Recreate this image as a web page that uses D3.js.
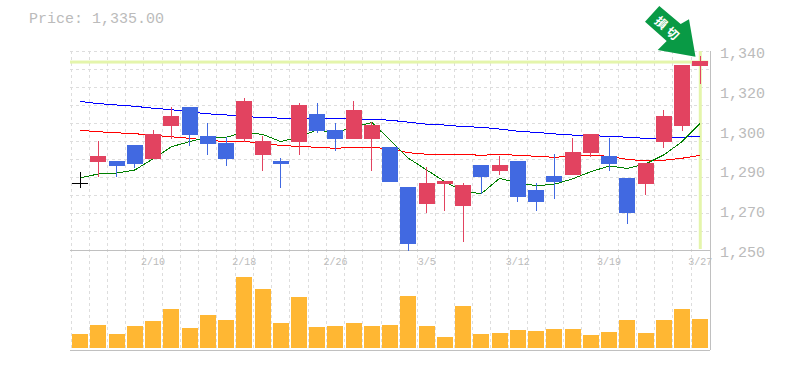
<!DOCTYPE html>
<html>
<head>
<meta charset="utf-8">
<script src="https://cdn.jsdelivr.net/npm/d3@7"></script>
<style>
body { margin: 0; background: #fff; }
svg { display: block; }
text { font-family: "Liberation Mono", monospace; fill: #bbb; }
text.badge { font-family: "Noto Sans CJK JP", sans-serif; font-weight: 700; fill: #fff; }
</style>
</head>
<body>
<svg id="chart" width="785" height="370"></svg>
<script>
const lastPrice = 1335;
const opens = [1280.2,1289.8,1290.2,1297.5,1291.2,1306.1,1314.7,1301.6,1298.4,1300.2,1293,1290.2,1298.8,1311.5,1304.3,1300.2,1300.2,1296.6,1278.5,1270.8,1279.8,1269.9,1288.4,1285.7,1290.2,1277.1,1283.5,1283.9,1293.9,1292.5,1282.6,1279.8,1298.8,1306.1,1333.2];
const closes = [1280.2,1292.5,1288,1288.9,1302.5,1310.6,1302,1297.9,1291.2,1317.4,1299.3,1288.9,1315.6,1303.8,1300.2,1313.3,1306.5,1280.7,1252.7,1280.3,1281.2,1279.4,1283,1288.4,1274,1271.7,1280.7,1294.3,1302.5,1288.9,1266.7,1289.3,1310.6,1333.7,1335.5];
const highs = [1285.3,1299.3,1290.2,1297.5,1304.3,1314.7,1314.7,1307.4,1301.1,1318.7,1301.6,1291.6,1316.5,1316.5,1307.4,1317.4,1307.9,1296.6,1278.5,1287.6,1281.2,1280.3,1288.4,1292.5,1290.2,1280.3,1293.4,1300.6,1302.5,1300.6,1282.6,1289.3,1313.3,1333.7,1337.7];
const lows = [1278,1283,1283,1287.1,1291.2,1300.2,1297,1293,1288,1298.8,1285.7,1278,1293,1302.9,1294.8,1300.2,1285.7,1280.7,1249.7,1266.7,1267.6,1253.6,1275.3,1283.9,1271.7,1267.6,1273.1,1283.9,1292.1,1285.7,1261.8,1274.9,1296.1,1304,1325.1];
const maBlue = [1317.2,1316.2,1315.6,1315,1314.1,1313.5,1312.4,1311.6,1311.1,1310.3,1310,1309.6,1309.7,1309.6,1309.6,1309.2,1309.1,1308.7,1307.8,1306.9,1306.5,1305.8,1305.5,1304.7,1303.7,1303.2,1302.5,1302,1301.7,1301.4,1301,1300.5,1300.5,1301,1301.4];
const maRed = [1304.1,1303.5,1303,1302.6,1301.9,1301.2,1300.5,1299.7,1299,1299,1298.5,1297.2,1296.9,1296.4,1296,1296.4,1296.4,1295.8,1294,1293.3,1293.3,1293.3,1292.8,1293.3,1292.8,1292.4,1291.9,1292.5,1292.8,1292.4,1291,1290.3,1290.6,1291.5,1292.8];
const maGreen = [1282.6,1284.4,1284.8,1286.2,1291.2,1296.7,1299,1301,1301,1303.2,1302.3,1299,1301.2,1304.3,1303,1305.8,1307.6,1299.7,1291.5,1286.2,1280.9,1276.4,1275.5,1282.4,1280.4,1279.1,1279.7,1282.2,1285.4,1288,1286.9,1288.9,1293,1299,1307.3];
const volumes = [14,23,14,22,27,39,20,33,28,71,59,25,51,21,22,25,22,23,52,22,11,42,14,15,18,17,19,19,13,16,28,15,28,39,29];
const priceTicks = [1340,1322,1304,1286,1268,1250];
const priceLabels = ['1,340','1,320','1,300','1,290','1,270','1,250'];
const dateIndex = [4,9,14,19,24,29,34];
const dateLabels = ['2/10','2/18','2/26','3/5','3/12','3/19','3/27'];
const badgeChars = ['損','切'];

const red = '#e24360';
const blue = '#4169e1';
const gridColor = '#ddd';
const frameColor = '#c0c0c0';
const markerColor = '#e4f5ab';
const left = 71, right = 709.4;
const priceTop = 51, priceBottom = 250, volumeBase = 348, volumeBottom = 350;

const svg = d3.select('#chart');
const days = d3.range(opens.length);

const x = d3.scaleBand().domain(days).range([left, right]);
const y = d3.scaleLinear().domain([1250, 1340]).range([priceBottom, priceTop]);
const yVol = d3.scaleLinear().domain([0, d3.max(volumes)]).range([volumeBase, 277]);
const mid = i => x(i) + x.bandwidth() / 2;
const bodyWidth = 16;

// grid
const grid = svg.append('g')
    .attr('stroke', gridColor)
    .attr('stroke-dasharray', '3,3')
    .attr('shape-rendering', 'crispEdges');
grid.selectAll('line.v')
    .data(days)
    .enter().append('line')
    .attr('class', 'v')
    .attr('x1', d => x(d))
    .attr('x2', d => x(d))
    .attr('y1', priceTop)
    .attr('y2', volumeBottom);
grid.selectAll('line.h')
    .data(d3.range(0, 11))
    .enter().append('line')
    .attr('class', 'h')
    .attr('x1', left - 1)
    .attr('x2', right)
    .attr('y1', d => y(1340 - d * 90 / 11))
    .attr('y2', d => y(1340 - d * 90 / 11));

// last price marker
const marker = svg.append('g').attr('fill', markerColor);
marker.append('rect')
    .attr('x', left - 1)
    .attr('width', right - left)
    .attr('y', y(lastPrice) - 1.5)
    .attr('height', 3);
marker.append('rect')
    .attr('x', mid(days.length - 1) - 1.5)
    .attr('width', 3)
    .attr('y', priceTop)
    .attr('height', priceBottom - priceTop - 1);

// frame
const frame = svg.append('g')
    .attr('stroke', frameColor)
    .attr('shape-rendering', 'crispEdges');
frame.append('line').attr('x1', left - 1).attr('x2', right + 1).attr('y1', priceBottom).attr('y2', priceBottom);
frame.append('line').attr('x1', left - 1).attr('x2', right + 1).attr('y1', volumeBottom).attr('y2', volumeBottom);
frame.append('line').attr('x1', right + 1).attr('x2', right + 1).attr('y1', priceTop).attr('y2', volumeBottom);

// moving averages
const maLine = d3.line().x((d, i) => mid(i)).y(d => y(d));
[[maBlue, '#0000ff'], [maRed, '#ff0000'], [maGreen, '#008000']].forEach(([values, color]) => {
    svg.append('path')
        .attr('d', maLine(values))
        .attr('fill', 'none')
        .attr('stroke', color)
        .attr('stroke-width', 1)
        .attr('shape-rendering', 'crispEdges');
});

// candles
const colorOf = i => closes[i] > opens[i] ? red : closes[i] < opens[i] ? blue : '#000';
const candle = svg.selectAll('g.candle')
    .data(days)
    .enter().append('g')
    .attr('class', 'candle')
    .attr('shape-rendering', 'crispEdges');
candle.append('line')
    .attr('x1', d => mid(d))
    .attr('x2', d => mid(d))
    .attr('y1', d => y(highs[d]))
    .attr('y2', d => y(lows[d]))
    .attr('stroke', d => colorOf(d));
candle.append('rect')
    .attr('x', d => mid(d) - bodyWidth / 2)
    .attr('width', bodyWidth)
    .attr('y', d => y(Math.max(opens[d], closes[d])))
    .attr('height', d => Math.max(1, Math.abs(y(opens[d]) - y(closes[d]))))
    .attr('fill', d => colorOf(d));

// volume
svg.selectAll('rect.vol')
    .data(days)
    .enter().append('rect')
    .attr('class', 'vol')
    .attr('x', d => mid(d) - bodyWidth / 2)
    .attr('width', bodyWidth)
    .attr('y', d => yVol(volumes[d]))
    .attr('height', d => yVol(0) - yVol(volumes[d]))
    .attr('fill', '#ffb733')
    .attr('shape-rendering', 'crispEdges');

// axes text
svg.selectAll('text.price')
    .data(priceTicks)
    .enter().append('text')
    .attr('class', 'price')
    .attr('x', 720)
    .attr('y', d => y(d) + 7)
    .attr('font-size', 15)
    .text((d, i) => priceLabels[i]);
svg.selectAll('text.date')
    .data(dateIndex)
    .enter().append('text')
    .attr('class', 'date')
    .attr('x', d => mid(d))
    .attr('y', 265)
    .attr('text-anchor', 'middle')
    .attr('font-size', 10)
    .text((d, i) => dateLabels[i]);
svg.append('text')
    .attr('x', 29)
    .attr('y', 23)
    .attr('font-size', 15)
    .text('Price: ' + d3.format(',.2f')(lastPrice));

// arrow
svg.append('path')
    .attr('d', 'M645,21.7 L659.3,6 L680.7,24 L689,19.3 L695.5,56.7 L657.7,50 L666.7,41 Z')
    .attr('fill', '#099a45');
svg.selectAll('text.badge')
    .data(badgeChars)
    .enter().append('text')
    .attr('class', 'badge')
    .attr('font-size', 12)
    .attr('text-anchor', 'middle')
    .attr('transform', (d, i) => `translate(${661 + i * 11.3},${23 + i * 10.7}) rotate(42)`)
    .attr('dy', 4)
    .text(d => d);
</script>
</body>
</html>
